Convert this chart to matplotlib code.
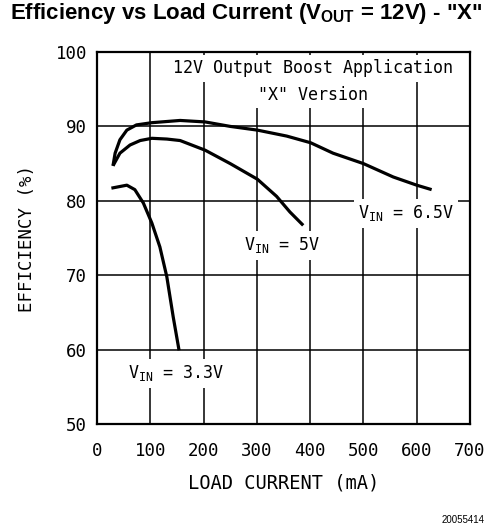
import matplotlib
matplotlib.use("Agg")
import matplotlib.pyplot as plt

# values
vin_65_current = [30, 34, 43, 56, 74, 103, 156, 203, 250, 301, 356, 401, 443, 500, 556, 600, 628]
vin_65_eff = [84.7, 86.4, 88.2, 89.5, 90.2, 90.5, 90.8, 90.6, 90.0, 89.5, 88.7, 87.8, 86.4,
              85.0, 83.2, 82.1, 81.5]

vin_5_current = [30, 43, 62, 81, 103, 131, 156, 203, 250, 301, 337, 362, 387]
vin_5_eff = [84.7, 86.4, 87.5, 88.1, 88.4, 88.3, 88.1, 86.8, 85.0, 82.9, 80.6, 78.5, 76.7]

vin_33_current = [27, 56, 71, 87, 103, 118, 131, 143, 154]
vin_33_eff = [81.7, 82.1, 81.5, 79.7, 77.0, 73.8, 69.8, 64.4, 59.9]

x_ticks = [0, 100, 200, 300, 400, 500, 600, 700]
y_ticks = [50, 60, 70, 80, 90, 100]

plt.rcParams["font.family"] = ["DejaVu Sans Mono"]

fig = plt.figure(figsize=(4.93, 5.27), dpi=100)
ax = fig.add_axes([97 / 493, 103 / 527, 373 / 493, 372 / 527])

for current, eff in [(vin_65_current, vin_65_eff), (vin_5_current, vin_5_eff),
                     (vin_33_current, vin_33_eff)]:
    ax.plot(current, eff, color="black", lw=2.3, solid_capstyle="butt",
            solid_joinstyle="round", zorder=4)

ax.set_xlim(0, 700)
ax.set_ylim(50, 100)
ax.set_xticks(x_ticks)
ax.set_yticks(y_ticks)
ax.tick_params(length=0, labelsize=12.5)
ax.tick_params(axis="x", pad=13)
ax.tick_params(axis="y", pad=7)
ax.grid(True, color="black", lw=1.1, zorder=1)
ax.set_axisbelow(True)
for spine in ax.spines.values():
    spine.set_linewidth(1.6)

ax.set_xlabel("LOAD CURRENT (mA)", fontsize=13.5, labelpad=10)
ax.set_ylabel("EFFICIENCY (%)", fontsize=12.5, labelpad=14)

box = dict(facecolor="white", edgecolor="none", pad=3)
label_kw = dict(ha="center", va="center", fontsize=12, bbox=box, zorder=3)
ax.text(405, 97.8, "12V Output Boost Application", **label_kw)
ax.text(405, 94.2, '"X" Version', **label_kw)
ax.text(580, 78.3, r"V$_\mathregular{IN}$ = 6.5V", **label_kw)
ax.text(347, 74.0, r"V$_\mathregular{IN}$ = 5V", **label_kw)
ax.text(148, 56.8, r"V$_\mathregular{IN}$ = 3.3V", **label_kw)

fig.text(0.5, 1 - 14 / 527, r'Efficiency vs Load Current (V$_\mathregular{OUT}$ = 12V) - "X"',
         ha="center", va="center", fontsize=16, fontweight="bold", family="Liberation Sans")
fig.text(485 / 493, 1 - 520 / 527, "20055414", ha="right", va="center",
         fontsize=7, family="Liberation Sans")

fig.savefig("out.png", dpi=100)
